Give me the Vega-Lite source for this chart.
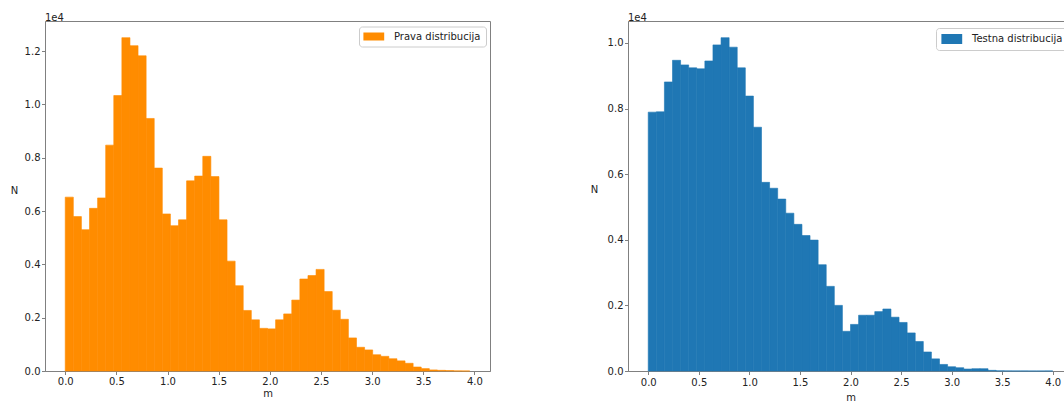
{
  "$schema": "https://vega.github.io/schema/vega-lite/v6.json",
  "padding": {"left": 9, "top": 12, "right": 0, "bottom": 0},
  "background": "white",
  "spacing": 138,
  "bounds": "flush",
  "resolve": {"scale": {"color": "independent"}, "legend": {"color": "independent"}},
  "config": {
    "font": "DejaVu Sans",
    "view": {"stroke": "#808080", "strokeWidth": 1},
    "axis": {
      "grid": false,
      "domainColor": "#808080",
      "tickColor": "#808080",
      "tickSize": 3.5,
      "labelFontSize": 10,
      "labelColor": "#222222",
      "labelFont": "DejaVu Sans",
      "titleFont": "DejaVu Sans",
      "titleFontSize": 10,
      "titleFontWeight": "normal",
      "titleColor": "#222222",
      "labelPadding": 1.5,
      "titlePadding": 2
    }
  },
  "datasets": {
    "prava": [
      {"m": 0, "m_end": 0.0791, "N": 6520},
      {"m": 0.0791, "m_end": 0.1582, "N": 5790},
      {"m": 0.1582, "m_end": 0.2373, "N": 5300},
      {"m": 0.2373, "m_end": 0.3164, "N": 6100},
      {"m": 0.3164, "m_end": 0.3955, "N": 6490},
      {"m": 0.3955, "m_end": 0.4746, "N": 8470},
      {"m": 0.4746, "m_end": 0.5537, "N": 10330},
      {"m": 0.5537, "m_end": 0.6328, "N": 12500},
      {"m": 0.6328, "m_end": 0.7119, "N": 12200},
      {"m": 0.7119, "m_end": 0.791, "N": 11820},
      {"m": 0.791, "m_end": 0.8701, "N": 9470},
      {"m": 0.8701, "m_end": 0.9492, "N": 7610},
      {"m": 0.9492, "m_end": 1.0283, "N": 5890},
      {"m": 1.0283, "m_end": 1.1074, "N": 5450},
      {"m": 1.1074, "m_end": 1.1865, "N": 5670},
      {"m": 1.1865, "m_end": 1.2656, "N": 7130},
      {"m": 1.2656, "m_end": 1.3447, "N": 7310},
      {"m": 1.3447, "m_end": 1.4238, "N": 8050},
      {"m": 1.4238, "m_end": 1.5029, "N": 7290},
      {"m": 1.5029, "m_end": 1.582, "N": 5670},
      {"m": 1.582, "m_end": 1.6611, "N": 4120},
      {"m": 1.6611, "m_end": 1.7402, "N": 3200},
      {"m": 1.7402, "m_end": 1.8193, "N": 2270},
      {"m": 1.8193, "m_end": 1.8984, "N": 1920},
      {"m": 1.8984, "m_end": 1.9775, "N": 1600},
      {"m": 1.9775, "m_end": 2.0566, "N": 1580},
      {"m": 2.0566, "m_end": 2.1357, "N": 1920},
      {"m": 2.1357, "m_end": 2.2148, "N": 2140},
      {"m": 2.2148, "m_end": 2.2939, "N": 2660},
      {"m": 2.2939, "m_end": 2.373, "N": 3450},
      {"m": 2.373, "m_end": 2.4521, "N": 3580},
      {"m": 2.4521, "m_end": 2.5312, "N": 3810},
      {"m": 2.5312, "m_end": 2.6103, "N": 2980},
      {"m": 2.6103, "m_end": 2.6894, "N": 2280},
      {"m": 2.6894, "m_end": 2.7685, "N": 1940},
      {"m": 2.7685, "m_end": 2.8476, "N": 1240},
      {"m": 2.8476, "m_end": 2.9267, "N": 890},
      {"m": 2.9267, "m_end": 3.0058, "N": 790},
      {"m": 3.0058, "m_end": 3.0849, "N": 610},
      {"m": 3.0849, "m_end": 3.164, "N": 550},
      {"m": 3.164, "m_end": 3.2431, "N": 460},
      {"m": 3.2431, "m_end": 3.3222, "N": 380},
      {"m": 3.3222, "m_end": 3.4013, "N": 290},
      {"m": 3.4013, "m_end": 3.4804, "N": 150},
      {"m": 3.4804, "m_end": 3.5595, "N": 90},
      {"m": 3.5595, "m_end": 3.6386, "N": 40},
      {"m": 3.6386, "m_end": 3.7177, "N": 25},
      {"m": 3.7177, "m_end": 3.7968, "N": 15},
      {"m": 3.7968, "m_end": 3.8759, "N": 3},
      {"m": 3.8759, "m_end": 3.955, "N": 1}
    ],
    "testna": [
      {"m": 0, "m_end": 0.08, "N": 7890},
      {"m": 0.08, "m_end": 0.16, "N": 7900},
      {"m": 0.16, "m_end": 0.24, "N": 8810},
      {"m": 0.24, "m_end": 0.32, "N": 9470},
      {"m": 0.32, "m_end": 0.4, "N": 9330},
      {"m": 0.4, "m_end": 0.48, "N": 9240},
      {"m": 0.48, "m_end": 0.56, "N": 9210},
      {"m": 0.56, "m_end": 0.64, "N": 9450},
      {"m": 0.64, "m_end": 0.72, "N": 9940},
      {"m": 0.72, "m_end": 0.8, "N": 10160},
      {"m": 0.8, "m_end": 0.88, "N": 9870},
      {"m": 0.88, "m_end": 0.96, "N": 9240},
      {"m": 0.96, "m_end": 1.04, "N": 8380},
      {"m": 1.04, "m_end": 1.12, "N": 7430},
      {"m": 1.12, "m_end": 1.2, "N": 5750},
      {"m": 1.2, "m_end": 1.28, "N": 5570},
      {"m": 1.28, "m_end": 1.36, "N": 5240},
      {"m": 1.36, "m_end": 1.44, "N": 4810},
      {"m": 1.44, "m_end": 1.52, "N": 4470},
      {"m": 1.52, "m_end": 1.6, "N": 4130},
      {"m": 1.6, "m_end": 1.68, "N": 3990},
      {"m": 1.68, "m_end": 1.76, "N": 3240},
      {"m": 1.76, "m_end": 1.84, "N": 2580},
      {"m": 1.84, "m_end": 1.92, "N": 2000},
      {"m": 1.92, "m_end": 2.0, "N": 1210},
      {"m": 2.0, "m_end": 2.08, "N": 1420},
      {"m": 2.08, "m_end": 2.16, "N": 1700},
      {"m": 2.16, "m_end": 2.24, "N": 1700},
      {"m": 2.24, "m_end": 2.32, "N": 1810},
      {"m": 2.32, "m_end": 2.4, "N": 1890},
      {"m": 2.4, "m_end": 2.48, "N": 1640},
      {"m": 2.48, "m_end": 2.56, "N": 1480},
      {"m": 2.56, "m_end": 2.64, "N": 1160},
      {"m": 2.64, "m_end": 2.72, "N": 900},
      {"m": 2.72, "m_end": 2.8, "N": 580},
      {"m": 2.8, "m_end": 2.88, "N": 370},
      {"m": 2.88, "m_end": 2.96, "N": 200},
      {"m": 2.96, "m_end": 3.04, "N": 130},
      {"m": 3.04, "m_end": 3.12, "N": 100},
      {"m": 3.12, "m_end": 3.2, "N": 60},
      {"m": 3.2, "m_end": 3.28, "N": 70},
      {"m": 3.28, "m_end": 3.36, "N": 70},
      {"m": 3.36, "m_end": 3.44, "N": 20},
      {"m": 3.44, "m_end": 3.52, "N": 5},
      {"m": 3.52, "m_end": 3.6, "N": 2},
      {"m": 3.6, "m_end": 3.68, "N": 1},
      {"m": 3.68, "m_end": 3.76, "N": 1},
      {"m": 3.76, "m_end": 3.84, "N": 0},
      {"m": 3.84, "m_end": 3.92, "N": 0},
      {"m": 3.92, "m_end": 4.0, "N": 1}
    ]
  },
  "hconcat": [
    {
      "width": 445,
      "height": 350,
      "data": {"name": "prava"},
      "title": {"text": "1e4", "anchor": "start", "frame": "group", "fontSize": 10, "fontWeight": "normal", "font": "DejaVu Sans", "color": "#222222", "offset": -9.5, "baseline": "alphabetic"},
      "mark": {"type": "rect", "stroke": "#ff8c00", "strokeWidth": 0.6},
      "encoding": {
        "x": {
          "field": "m", "type": "quantitative",
          "scale": {"domain": [-0.1978, 4.1528], "nice": false, "zero": false},
          "axis": {"values": [0, 0.5, 1, 1.5, 2, 2.5, 3, 3.5, 4], "format": ".1f", "title": "m"}
        },
        "x2": {"field": "m_end"},
        "y": {
          "field": "N", "type": "quantitative",
          "scale": {"domain": [0, 13125], "nice": false},
          "axis": {"values": [0, 2000, 4000, 6000, 8000, 10000, 12000], "labelExpr": "format(datum.value / 10000, '.1f')", "title": "N", "titleAngle": 0, "titleX": -31, "titleY": 169, "titleAlign": "center", "titleBaseline": "middle"}
        },
        "y2": {"datum": 0},
        "color": {
          "datum": "Prava distribucija", "type": "nominal",
          "scale": {"range": ["#ff8c00"]},
          "legend": {"title": null, "orient": "none", "legendX": 314, "legendY": 5.5, "fillColor": "white", "strokeColor": "#cccccc", "cornerRadius": 3, "padding": 5, "symbolType": "M-1.4,-1H3.8V1H-1.4Z", "symbolSize": 64, "symbolStrokeWidth": 0, "labelFontSize": 10, "labelOffset": 20, "labelFont": "DejaVu Sans", "labelColor": "#222222"}
        }
      }
    },
    {
      "width": 445,
      "height": 350,
      "data": {"name": "testna"},
      "title": {"text": "1e4", "anchor": "start", "frame": "group", "fontSize": 10, "fontWeight": "normal", "font": "DejaVu Sans", "color": "#222222", "offset": -9.5, "baseline": "alphabetic"},
      "mark": {"type": "rect", "stroke": "#1f77b4", "strokeWidth": 0.6},
      "encoding": {
        "x": {
          "field": "m", "type": "quantitative",
          "scale": {"domain": [-0.2, 4.2], "nice": false, "zero": false},
          "axis": {"values": [0, 0.5, 1, 1.5, 2, 2.5, 3, 3.5, 4], "format": ".1f", "title": "m", "labelPadding": 2.5, "titlePadding": 5}
        },
        "x2": {"field": "m_end"},
        "y": {
          "field": "N", "type": "quantitative",
          "scale": {"domain": [0, 10668], "nice": false},
          "axis": {"values": [0, 2000, 4000, 6000, 8000, 10000], "labelExpr": "format(datum.value / 10000, '.1f')", "title": "N", "titleAngle": 0, "titleX": -34, "titleY": 168, "titleAlign": "center", "titleBaseline": "middle"}
        },
        "y2": {"datum": 0},
        "color": {
          "datum": "Testna distribucija", "type": "nominal",
          "scale": {"range": ["#1f77b4"]},
          "legend": {"title": null, "orient": "none", "legendX": 308, "legendY": 7, "fillColor": "white", "strokeColor": "#cccccc", "cornerRadius": 3, "padding": 6, "symbolType": "M-1.4,-1.25H3.8V1.25H-1.4Z", "symbolSize": 64, "symbolStrokeWidth": 0, "labelFontSize": 10, "labelOffset": 20, "labelFont": "DejaVu Sans", "labelColor": "#222222"}
        }
      }
    }
  ]
}
